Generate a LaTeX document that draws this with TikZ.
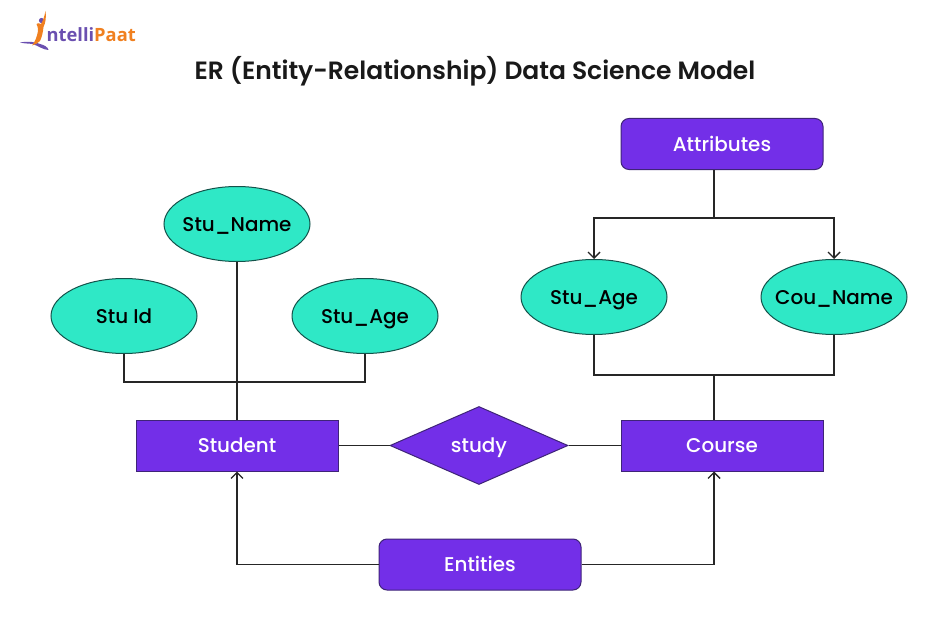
\documentclass[tikz,border=0pt]{standalone}
\usepackage{fontspec}
\setmainfont{Poppins Medium}[BoldFont={Poppins SemiBold}]
\newfontfamily\logofont{Open Sans}
\usetikzlibrary{shapes.geometric,arrows.meta}
\definecolor{vio}{HTML}{732FE8}
\definecolor{edgev}{HTML}{3F2478}
\definecolor{teal2}{HTML}{2FE8C6}
\definecolor{edget}{HTML}{14524A}
\definecolor{logoO}{HTML}{F08020}
\definecolor{logoP}{HTML}{6A4FB0}
\tikzset{
  lab/.style={font=\fontsize{19.9}{22}\selectfont,text height=16pt,text depth=2pt},
  ent/.style={lab,draw=edgev,line width=1pt,fill=vio,text=white,minimum width=202pt,minimum height=51pt,inner sep=0pt},
  rnd/.style={ent,rounded corners=8pt},
  rel/.style={lab,diamond,draw=edgev,line width=1pt,fill=vio,text=white,minimum width=178pt,minimum height=78pt,aspect=2.28,inner sep=-6pt},
  attr/.style={lab,ellipse,draw=edget,line width=1pt,fill=teal2,text=black,minimum width=146pt,minimum height=75pt,inner sep=-20pt},
  link/.style={draw=black!85,line width=1.4pt},
  arr/.style={link,-{Straight Barb[length=6pt,width=12pt,line width=1.4pt]}}
}
\begin{document}
\begin{tikzpicture}[x=1pt,y=-1pt]
\fill[white] (0,0) rectangle (950,623);
\useasboundingbox (0,0) rectangle (950,623);
% logo
\fill[logoP] (20,42.5) .. controls (28,41) and (36,42) .. (40,44) .. controls (44,45) and (48,47) .. (48.5,50) .. controls (44,50) and (38,46) .. (33,44) .. controls (28,43.5) and (24,43.5) .. (20,42.5) -- cycle;
\fill[logoP] (41.5,20.5) circle (2.6);
\fill[logoO] (45.5,11) .. controls (46.5,17) and (45.5,23) .. (43.5,27) .. controls (43,32) and (42,37) .. (40,41) .. controls (38,43) and (35,45) .. (32,45.5) .. controls (35,42) and (37,37) .. (38,31) .. controls (38,27) and (37,25) .. (36.5,24) .. controls (37.5,23) and (39,23) .. (41,24) .. controls (43,21) and (44.5,16) .. (45.5,11) -- cycle;
\node[anchor=base west,inner sep=0pt,font=\logofont\bfseries\fontsize{18.3}{20}\selectfont] (logotext) at (46.5,42) {\textcolor{logoP}{ntelli}\textcolor{logoO}{Paat}};
% title
\node[font=\bfseries\fontsize{25}{28}\selectfont,text=black!90,inner sep=0pt] (title) at (475,71) {ER (Entity-Relationship) Data Science Model};
% connectors coordinates
\coordinate (c1) at (237,382);
\coordinate (c2) at (714,375);
\coordinate (c3) at (714,218);
% nodes
\node[rnd] (attributes) at (722,144) {Attributes};
\node[ent] (student) at (237,445.5) {Student};
\node[ent] (course) at (722,445.5) {Course};
\node[rnd] (entities) at (480,564.5) {Entities};
\node[rel] (study) at (479,445.5) {study};
\node[attr] (name) at (237,224) {Stu\_Name};
\node[attr] (id) at (124,316) {Stu Id};
\node[attr] (age) at (365,316) {Stu\_Age};
\node[attr] (age2) at (594,297) {Stu\_Age};
\node[attr] (cname) at (834,297) {Cou\_Name};
% links
\draw[link] (name.south) -- (student.north -| name.south);
\draw[link] (id.south) |- (c1) -| (age.south);
\draw[link] (age2.south) |- (c2) -| (cname.south);
\draw[link] (c2) -- (course.north -| c2);
\draw[link] (attributes.south -| c3) -- (c3);
\draw[arr] (c3) -| (age2.north);
\draw[arr] (c3) -| (cname.north);
\draw[link] (student.east) -- (study.west);
\draw[link] (study.east) -- (course.west);
\draw[arr] (entities.west) -| (student.south);
\draw[arr] (entities.east) -| (course.south -| c3);
\end{tikzpicture}
\end{document}
